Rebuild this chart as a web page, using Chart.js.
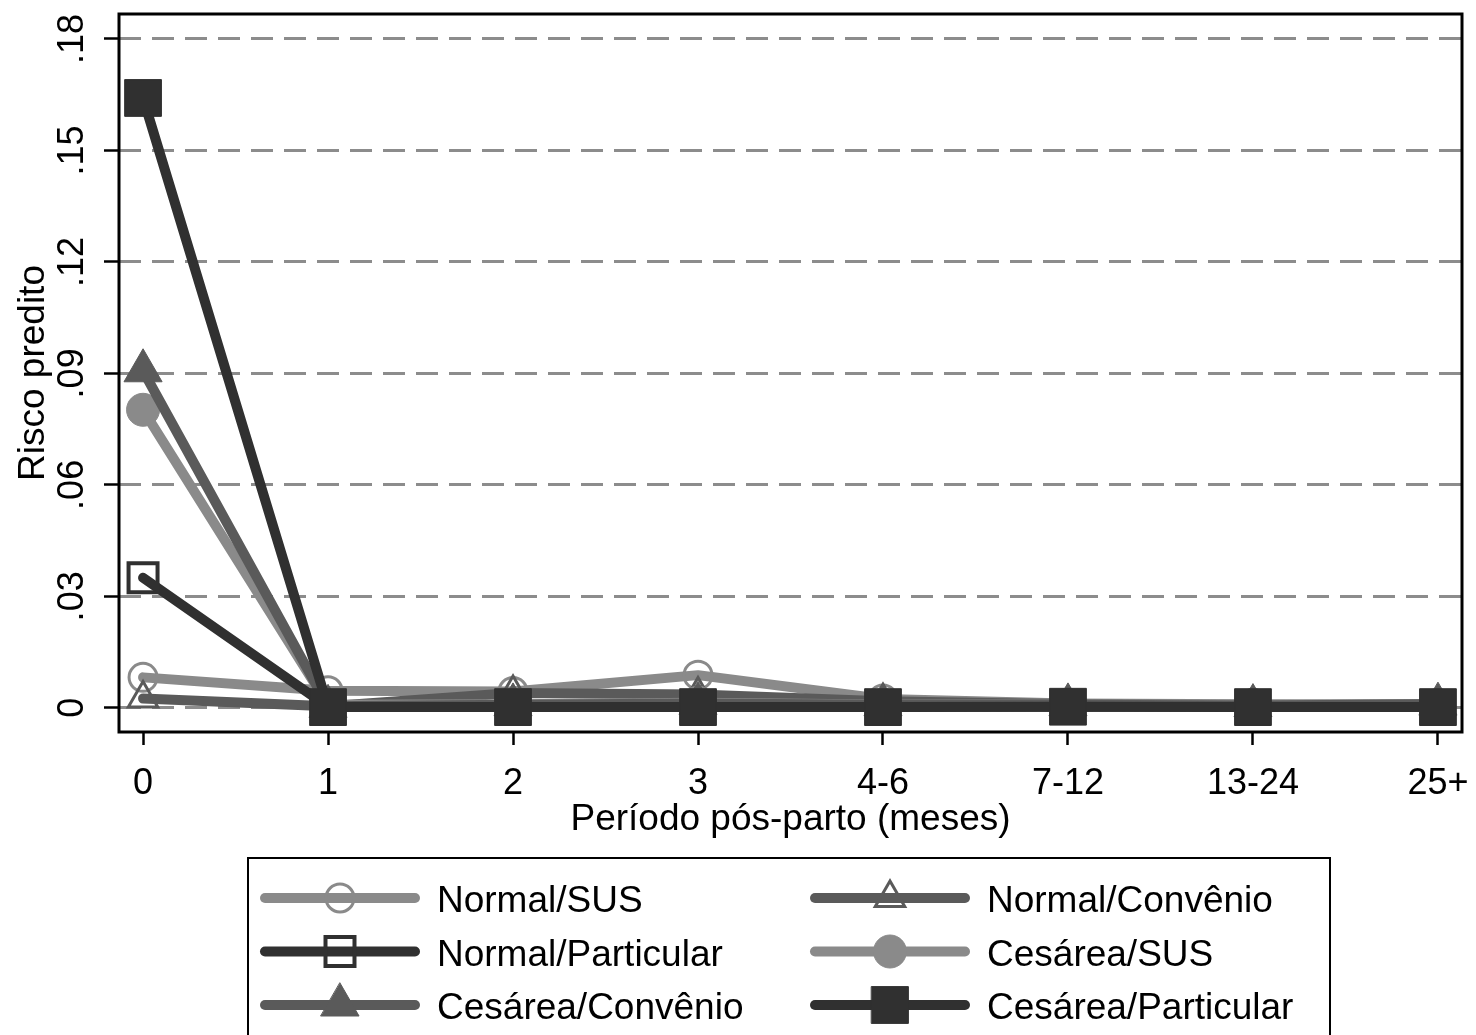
<!DOCTYPE html>
<html>
<head>
<meta charset="utf-8">
<script src="https://cdn.jsdelivr.net/npm/chart.js@4"></script>
<style>
  html, body { margin: 0; padding: 0; background: #fff; }
  #wrap { width: 1476px; height: 1035px; }
</style>
</head>
<body>
<div id="wrap"><canvas id="grafico" width="1476" height="1035"></canvas></div>
<script>
// Categorias do eixo x
const categorias = ["0", "1", "2", "3", "4-6", "7-12", "13-24", "25+"];

// Ticks do eixo y
const yTicks = [0, 0.03, 0.06, 0.09, 0.12, 0.15, 0.18];
const yTickLabels = ["0", ".03", ".06", ".09", ".12", ".15", ".18"];

// Risco predito por grupo
const normalSUS = [0.0082, 0.0046, 0.0044, 0.0088, 0.0024, 0.0012, 0.0010, 0.0009];
const normalConvenio = [0.0025, 0.0004, 0.0040, 0.0036, 0.0018, 0.0010, 0.0007, 0.0010];
const normalParticular = [0.0350, 0.0003, 0.0003, 0.0003, 0.0003, 0.0003, 0.0003, 0.0003];
const cesareaSUS = [0.0802, 0.0008, 0.0010, 0.0014, 0.0009, 0.0009, 0.0008, 0.0008];
const cesareaConvenio = [0.0907, 0.0004, 0.0008, 0.0012, 0.0008, 0.0008, 0.0006, 0.0010];
const cesareaParticular = [0.1641, 0.0002, 0.0002, 0.0002, 0.0002, 0.0003, 0.0002, 0.0002];

const nomes = ["Normal/SUS", "Normal/Convênio", "Normal/Particular", "Cesárea/SUS", "Cesárea/Convênio", "Cesárea/Particular"];

const FONTE = "'Liberation Sans', Arial, sans-serif";
const CLARO = "#8a8a8a";
const MEDIO = "#5a5a5a";
const ESCURO = "#303030";

function serie(i, dados, cor, estilo, raio, vazio, borda) {
  return {
    label: nomes[i],
    data: dados.map((v, k) => ({ x: k, y: v })),
    borderColor: cor,
    borderWidth: 10,
    borderCapStyle: "round",
    borderJoinStyle: "round",
    pointStyle: estilo,
    pointRadius: raio,
    pointHoverRadius: raio,
    pointBorderWidth: borda,
    pointBorderColor: cor,
    pointBackgroundColor: vazio ? "rgba(0,0,0,0)" : cor,
    order: 5 - i,
    tension: 0
  };
}

const datasets = [
  serie(0, normalSUS, CLARO, "circle", 14, true, 3),
  serie(1, normalConvenio, MEDIO, "triangle", 17, true, 3),
  serie(2, normalParticular, ESCURO, "rect", 20.5, true, 4),
  serie(3, cesareaSUS, CLARO, "circle", 16.5, false, 1),
  serie(4, cesareaConvenio, MEDIO, "triangle", 22, false, 1),
  serie(5, cesareaParticular, ESCURO, "rect", 26, false, 1)
];

// Moldura, rótulos do eixo y, títulos e legenda
const extras = {
  id: "extras",
  beforeDatasetsDraw(chart) {
    const ctx = chart.ctx, a = chart.chartArea;
    ctx.save();
    ctx.strokeStyle = "#000";
    ctx.lineWidth = 3;
    ctx.strokeRect(a.left, a.top, a.right - a.left, a.bottom - a.top);
    ctx.restore();
  },
  afterDraw(chart) {
    const ctx = chart.ctx, a = chart.chartArea, y = chart.scales.y;
    ctx.save();
    ctx.fillStyle = "#000";
    ctx.textAlign = "center";
    ctx.textBaseline = "alphabetic";

    // rótulos do eixo y (verticais)
    ctx.font = "36px " + FONTE;
    yTicks.forEach((v, i) => {
      ctx.save();
      ctx.translate(83, y.getPixelForValue(v));
      ctx.rotate(-Math.PI / 2);
      ctx.fillText(yTickLabels[i], 0, 0);
      ctx.restore();
    });

    // títulos
    ctx.font = "37px " + FONTE;
    ctx.save();
    ctx.translate(44, (a.top + a.bottom) / 2);
    ctx.rotate(-Math.PI / 2);
    ctx.fillText("Risco predito", 0, 0);
    ctx.restore();
    ctx.fillText("Período pós-parto (meses)", (a.left + a.right) / 2, 830);

    // legenda
    ctx.strokeStyle = "#000";
    ctx.lineWidth = 2;
    ctx.strokeRect(248, 858, 1082, 200);
    ctx.textAlign = "left";
    chart.data.datasets.forEach((ds, i) => {
      const col = i % 2, row = Math.floor(i / 2);
      const x0 = col === 0 ? 265 : 815;
      const yc = 898 + row * 53.5;
      ctx.save();
      ctx.strokeStyle = ds.borderColor;
      ctx.lineWidth = ds.borderWidth;
      ctx.lineCap = "round";
      ctx.beginPath();
      ctx.moveTo(x0, yc);
      ctx.lineTo(x0 + 150, yc);
      ctx.stroke();
      ctx.fillStyle = ds.pointBackgroundColor;
      ctx.strokeStyle = ds.pointBorderColor;
      ctx.lineWidth = ds.pointBorderWidth;
      Chart.helpers.drawPoint(ctx, {
        pointStyle: ds.pointStyle,
        radius: ds.pointRadius,
        borderWidth: ds.pointBorderWidth,
        rotation: 0
      }, x0 + 75, yc);
      ctx.restore();
      ctx.fillStyle = "#000";
      ctx.font = "37px " + FONTE;
      ctx.fillText(ds.label, x0 + 172, yc + 14);
    });
    ctx.restore();
  }
};

new Chart(document.getElementById("grafico"), {
  type: "line",
  data: { datasets: datasets },
  options: {
    responsive: false,
    animation: false,
    devicePixelRatio: 1,
    layout: { autoPadding: false, padding: { top: 14, right: 14, left: 0, bottom: 0 } },
    plugins: { legend: { display: false }, tooltip: { enabled: false } },
    scales: {
      x: {
        type: "linear",
        min: -0.13,
        max: 7.13,
        afterBuildTicks: s => { s.ticks = categorias.map((c, i) => ({ value: i })); },
        afterFit: s => { s.height = 303; s.paddingLeft = 0; s.paddingRight = 0; },
        ticks: {
          callback: v => categorias[v],
          font: { size: 36, family: FONTE },
          color: "#000",
          padding: 17,
          maxRotation: 0,
          autoSkip: false
        },
        grid: { drawOnChartArea: false, tickColor: "#000", tickWidth: 2.5, tickLength: 13 },
        border: { display: false }
      },
      y: {
        min: -0.0065,
        max: 0.1867,
        afterBuildTicks: s => { s.ticks = yTicks.map(v => ({ value: v })); },
        afterFit: s => { s.width = 119; },
        ticks: { display: false },
        grid: { color: "#8c8c8c", lineWidth: 3, tickColor: "#000", tickWidth: 2.5, tickLength: 15, tickBorderDash: [] },
        border: { display: false, dash: [22, 11] }
      }
    }
  },
  plugins: [extras]
});
</script>
</body>
</html>
